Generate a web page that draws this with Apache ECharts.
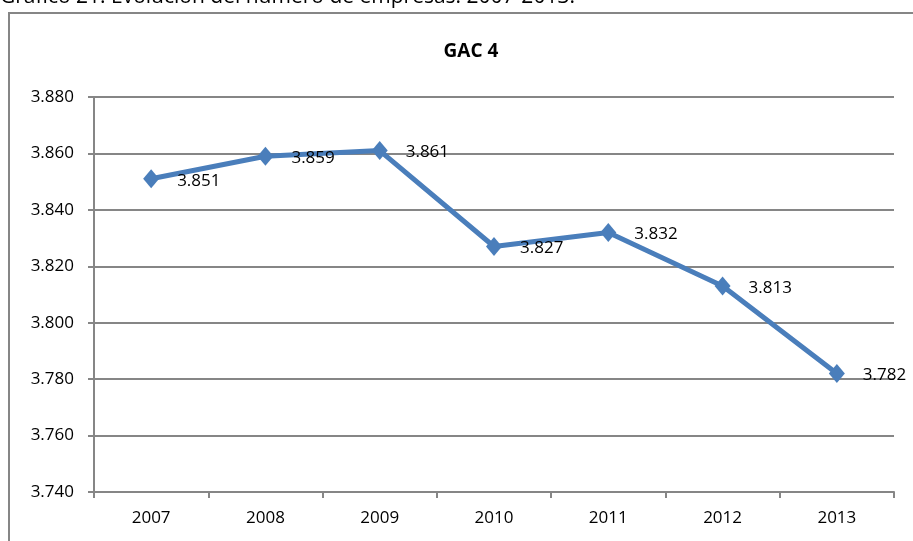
<!DOCTYPE html>
<html>
<head>
<meta charset="utf-8">
<script src="https://cdn.jsdelivr.net/npm/echarts@6/dist/echarts.min.js"></script>
<style>
  html, body { margin: 0; padding: 0; background: #fff; }
  #main { width: 913px; height: 541px; }
</style>
</head>
<body>
<div id="main"></div>
<script>
  const years = ['2007', '2008', '2009', '2010', '2011', '2012', '2013']
  const empresas = [3.851, 3.859, 3.861, 3.827, 3.832, 3.813, 3.782]
  const yMin = 3.74
  const yMax = 3.88
  const yStep = 0.02

  const font = '"Open Sans", "Noto Sans", sans-serif'
  const fmt = v => v.toFixed(3)

  const myChart = echarts.init(document.getElementById('main'))
  const option = {
    backgroundColor: '#fff',
    animation: false,
    title: {
      text: 'GAC 4',
      left: 466,
      textAlign: 'center',
      top: 37,
      textStyle: { fontFamily: font, fontSize: 19, fontWeight: 'bold', color: '#000' }
    },
    graphic: [
      // marco exterior del gráfico
      {
        type: 'rect',
        shape: { x: 9, y: 13, width: 930, height: 560 },
        style: { fill: 'none', stroke: '#868686', lineWidth: 2 },
        silent: true
      },
      // pie de la figura (cortado por arriba)
      {
        type: 'text',
        left: 0,
        top: -13,
        style: {
          text: 'Gráfico 21. Evolución del número de empresas. 2007-2013.',
          fontFamily: font, fontSize: 21, fill: '#000'
        }
      }
    ],
    grid: { left: 94, right: 19, top: 97, bottom: 49 },
    xAxis: {
      type: 'category',
      data: years,
      boundaryGap: true,
      axisLine: { lineStyle: { color: '#868686', width: 2 } },
      axisTick: { show: true, length: 6, interval: 0, lineStyle: { color: '#868686', width: 2 } },
      axisLabel: { color: '#000', fontFamily: font, fontSize: 17, margin: 18 },
      splitLine: { show: false }
    },
    yAxis: {
      type: 'value',
      min: yMin,
      max: yMax,
      interval: yStep,
      axisLine: { show: true, lineStyle: { color: '#868686', width: 2 } },
      axisTick: { show: true, length: 6, lineStyle: { color: '#868686', width: 2 } },
      axisLabel: { color: '#000', fontFamily: font, fontSize: 17, margin: 20, formatter: fmt },
      splitLine: { lineStyle: { color: '#868686', width: 2 } }
    },
    series: [
      {
        name: 'GAC 4',
        type: 'line',
        data: empresas,
        symbol: 'diamond',
        symbolSize: [16, 19],
        showAllSymbol: true,
        lineStyle: { color: '#4A7EBB', width: 5 },
        itemStyle: { color: '#4A7EBB' },
        label: {
          show: true,
          position: 'right',
          distance: 18,
          offset: [0, 2],
          color: '#000',
          fontFamily: font,
          fontSize: 17,
          formatter: p => fmt(p.value)
        }
      }
    ]
  }
  myChart.setOption(option)
</script>
</body>
</html>
